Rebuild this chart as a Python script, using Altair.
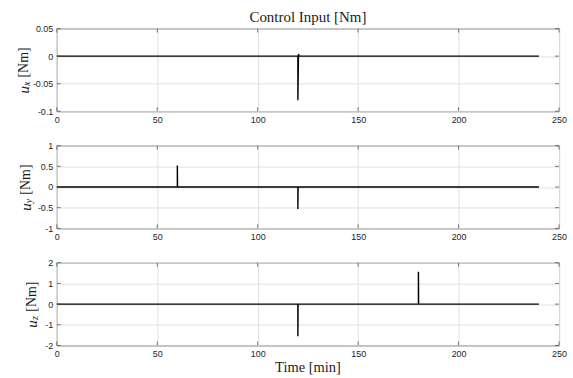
import altair as alt
import pandas as pd

# ---- data ----
t_x = [0, 120, 120, 120.3, 120.6, 240]
u_x = [0, 0, -0.08, 0.004, 0, 0]
t_y = [0, 60, 60, 60.1, 120, 120, 120.1, 240]
u_y = [0, 0, 0.52, 0, 0, -0.53, 0, 0]
t_z = [0, 120, 120, 120.1, 180, 180, 180.1, 240]
u_z = [0, 0, -1.56, 0, 0, 1.56, 0, 0]

x_ticks = [0, 50, 100, 150, 200, 250]
yx_ticks = [-0.1, -0.05, 0, 0.05]
yy_ticks = [-1, -0.5, 0, 0.5, 1]
yz_ticks = [-2, -1, 0, 1, 2]

W, H = 504, 83
FRAME = "#555555"
GRID = "#e0e0e0"
TXT = "#262626"
SANS = "Liberation Sans"
SERIF = "Liberation Serif"


def text_layer(s, x, y, size=13, style="normal", angle=0):
    return alt.Chart(pd.DataFrame({"s": [s]})).mark_text(
        font=SERIF, fontSize=size, fontStyle=style, angle=angle,
        align="center", baseline="middle", color="#1a1a1a"
    ).encode(text="s:N", x=alt.value(x), y=alt.value(y))


def spacer(x1, x2, y1, y2):
    return alt.Chart(pd.DataFrame({"a": [0]})).mark_rect(opacity=0).encode(
        x=alt.value(x1), x2=alt.value(x2), y=alt.value(y1), y2=alt.value(y2))


def panel(t, u, yticks, ydom, sub, lab_x, extra=None):
    df = pd.DataFrame({"t": t, "u": u, "i": list(range(len(t)))})
    xs = alt.Scale(domain=[0, 250], nice=False, zero=False)
    ys = alt.Scale(domain=ydom, nice=False, zero=False)
    xaxis = alt.Axis(values=x_ticks, grid=True, gridColor=GRID, domain=False,
                     ticks=False, labelFont=SANS, labelFontSize=9, labelColor=TXT,
                     labelPadding=4, labelFlush=False, labelOverlap=False,
                     title=None, labelExpr="toString(datum.value)")
    yaxis = alt.Axis(values=yticks, grid=True, gridColor=GRID, domain=False,
                     ticks=False, labelFont=SANS, labelFontSize=9, labelColor=TXT,
                     labelPadding=4, labelOverlap=False, labelFlush=False,
                     title=None, labelExpr="toString(datum.value)")
    line = alt.Chart(df).mark_line(color="#000000", strokeWidth=1.4).encode(
        x=alt.X("t:Q", scale=xs, axis=xaxis),
        y=alt.Y("u:Q", scale=ys, axis=yaxis),
        order=alt.Order("i:Q"),
    )
    xt = pd.DataFrame({"v": x_ticks})
    yt = pd.DataFrame({"v": yticks})
    tb = alt.Chart(xt).mark_rule(color=FRAME, strokeWidth=0.8).encode(
        x=alt.X("v:Q", scale=xs, axis=xaxis), y=alt.value(H), y2=alt.value(H - 4))
    tt = alt.Chart(xt).mark_rule(color=FRAME, strokeWidth=0.8).encode(
        x=alt.X("v:Q", scale=xs, axis=xaxis), y=alt.value(0), y2=alt.value(4))
    tl = alt.Chart(yt).mark_rule(color=FRAME, strokeWidth=0.8).encode(
        y=alt.Y("v:Q", scale=ys, axis=yaxis), x=alt.value(0), x2=alt.value(4))
    tr = alt.Chart(yt).mark_rule(color=FRAME, strokeWidth=0.8).encode(
        y=alt.Y("v:Q", scale=ys, axis=yaxis), x=alt.value(W), x2=alt.value(W - 4))
    labs = [
        text_layer("[Nm]", lab_x, 34, size=14, angle=270),
        text_layer("u", lab_x, 61.5, size=15, style="italic", angle=270),
        text_layer(sub, lab_x + 3.5, 55.5, size=10, style="italic", angle=270),
    ]
    layers = (extra or []) + [line, tb, tt, tl, tr] + labs
    return alt.layer(*layers).properties(width=W, height=H)


p1 = panel(t_x, u_x, yx_ticks, [-0.1, 0.05], "x", -33,
           extra=[spacer(-56, W + 13, -27, H),
                  text_layer("Control Input [Nm]", W / 2, -12, size=15)])
p2 = panel(t_y, u_y, yy_ticks, [-1, 1], "y", -31)
p3 = panel(t_z, u_z, yz_ticks, [-2, 2], "z", -25,
           extra=[spacer(-56, W + 13, 0, H + 33),
                  text_layer("Time [min]", W / 2, H + 23, size=14.5)])

chart = alt.vconcat(p1, p2, p3, spacing=34.5, bounds="flush").properties(
    padding=0,
    background="white",
).configure_view(stroke=FRAME, strokeWidth=1)

chart.save("out.html", embed_options={"renderer": "svg", "actions": False})
